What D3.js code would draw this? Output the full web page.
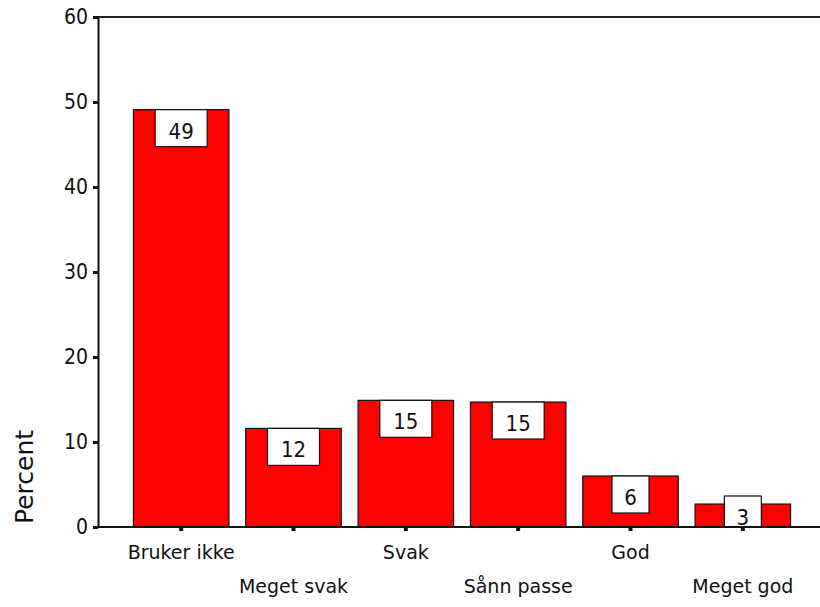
<!DOCTYPE html>
<html>
<head>
<meta charset="utf-8">
<script src="https://cdn.jsdelivr.net/npm/d3@7"></script>
<style>
  body { margin: 0; background: #fff; }
  svg text { font-family: "DejaVu Sans", Verdana, sans-serif; fill: #111; }
</style>
</head>
<body>
<div id="chart"></div>
<script>
var categories = ["Bruker ikke", "Meget svak", "Svak", "Sånn passe", "God", "Meget god"];
var percents = [49.1, 11.6, 14.9, 14.7, 6.0, 2.7];
var yTicks = [0, 10, 20, 30, 40, 50, 60];

var chartW = 820, chartH = 607;
var plotLeft = 98, plotTop = 17, plotBottom = 527;
var narrow = '"DejaVu Sans Condensed", "DejaVu Sans", sans-serif';

var svg = d3.select("#chart").append("svg")
  .attr("width", chartW)
  .attr("height", chartH);

var x = d3.scaleBand()
  .domain(categories)
  .range([125, 799])
  .paddingInner(0.15)
  .paddingOuter(0.075);

var y = d3.scaleLinear()
  .domain([0, 60])
  .range([plotBottom, plotTop]);

// bars
svg.selectAll("rect.bar")
  .data(percents)
  .enter()
  .append("rect")
  .attr("class", "bar")
  .attr("x", function(d, i) { return x(categories[i]); })
  .attr("y", function(d) { return y(d); })
  .attr("width", x.bandwidth())
  .attr("height", function(d) { return y(0) - y(d); })
  .attr("fill", "#ff0000")
  .attr("stroke", "#111")
  .attr("stroke-width", 1.2);

// value boxes
var boxH = 37;
function boxW(d) { return Math.round(d) >= 10 ? 52 : 37; }
function boxY(d) { return Math.min(y(d), y(0) - 31); }

var lab = svg.selectAll("g.lab")
  .data(percents)
  .enter()
  .append("g")
  .attr("class", "lab");

lab.append("rect")
  .attr("x", function(d, i) { return x(categories[i]) + x.bandwidth() / 2 - boxW(d) / 2; })
  .attr("y", boxY)
  .attr("width", boxW)
  .attr("height", function(d) { return Math.min(boxH, y(0) - boxY(d)); })
  .attr("fill", "#fff")
  .attr("stroke", "#111")
  .attr("stroke-width", 1.2);

lab.append("text")
  .attr("x", function(d, i) { return x(categories[i]) + x.bandwidth() / 2; })
  .attr("y", function(d) { return boxY(d) + 29; })
  .attr("text-anchor", "middle")
  .style("font-family", narrow)
  .style("font-size", "22px")
  .text(function(d) { return Math.round(d); });

// frame line on top
svg.append("line")
  .attr("x1", plotLeft).attr("x2", chartW)
  .attr("y1", plotTop).attr("y2", plotTop)
  .attr("stroke", "#222").attr("stroke-width", 2);

// y axis
var yAxis = svg.append("g")
  .attr("transform", "translate(" + plotLeft + ",0)")
  .call(d3.axisLeft(y).tickValues(yTicks).tickSize(5).tickPadding(5).tickSizeOuter(0));
yAxis.select(".domain").attr("stroke", "#111").attr("stroke-width", 2);
yAxis.selectAll(".tick line").attr("stroke", "#111").attr("stroke-width", 3);
yAxis.selectAll(".tick text")
  .style("font-family", narrow)
  .style("font-size", "21px")
  .attr("fill", "#111");

// x axis
var xAxis = svg.append("g")
  .attr("transform", "translate(0," + plotBottom + ")")
  .call(d3.axisBottom(x).tickSize(4).tickSizeOuter(0));
xAxis.select(".domain").attr("d", "M" + plotLeft + ",0H" + chartW)
  .attr("stroke", "#111").attr("stroke-width", 2);
xAxis.selectAll(".tick line").attr("stroke", "#111").attr("stroke-width", 4);
xAxis.selectAll(".tick text")
  .style("font-size", "19px")
  .attr("fill", "#111")
  .attr("dy", null)
  .attr("y", function(d, i) { return i % 2 === 0 ? 32 : 66; });

// axis title
svg.append("text")
  .attr("transform", "translate(33,477) rotate(-90)")
  .attr("text-anchor", "middle")
  .style("font-size", "25px")
  .text("Percent");
</script>
</body>
</html>
